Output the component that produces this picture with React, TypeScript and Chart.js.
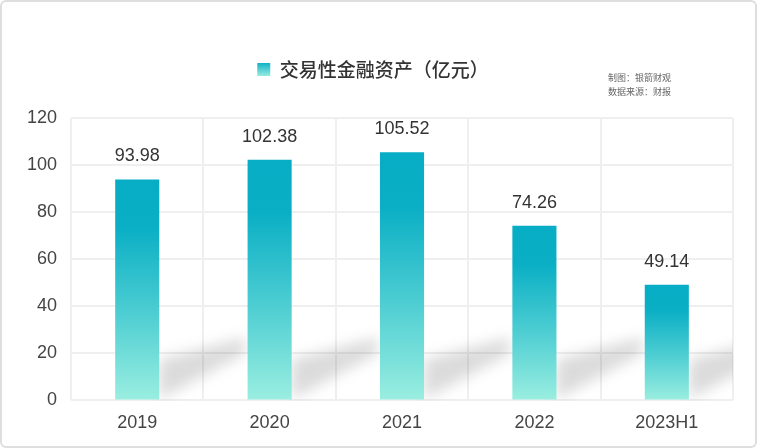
import React, { useEffect, useRef } from 'react';
import { Chart, registerables } from 'chart.js';

Chart.register(...registerables);

const categories = ['2019', '2020', '2021', '2022', '2023H1'];
const values = [93.98, 102.38, 105.52, 74.26, 49.14];
const valueLabels = ['93.98', '102.38', '105.52', '74.26', '49.14'];
const yTickValues = [0, 20, 40, 60, 80, 100, 120];
const seriesName = '交易性金融资产（亿元）';
const sourceLines = ['制图：银箭财观', '数据来源：财报'];

const FONT = '"Helvetica Neue", Helvetica, Arial, "Liberation Sans", "Noto Sans CJK SC", sans-serif';
const CJK_FONT = '"Noto Sans CJK SC", "Helvetica Neue", Arial, sans-serif';

function barGradient(ctx: CanvasRenderingContext2D, top: number, bottom: number) {
  const g = ctx.createLinearGradient(0, top, 0, bottom);
  g.addColorStop(0, '#07adc4');
  g.addColorStop(0.22, '#0aafc5');
  g.addColorStop(0.6, '#4ccdd2');
  g.addColorStop(1, '#9aeee0');
  return g;
}

const shadowPlugin = {
  id: 'barShadows',
  beforeDatasetsDraw(chart: any) {
    const { ctx, chartArea } = chart;
    const meta = chart.getDatasetMeta(0);
    ctx.save();
    ctx.beginPath();
    ctx.rect(chartArea.left, chartArea.top, chartArea.right - chartArea.left, chartArea.bottom - chartArea.top);
    ctx.clip();
    ctx.filter = 'blur(7px)';
    ctx.fillStyle = 'rgba(0,0,0,0.14)';
    meta.data.forEach((bar: any) => {
      const xr = bar.x + bar.width / 2;
      const base = bar.base;
      ctx.beginPath();
      ctx.moveTo(xr, base);
      ctx.lineTo(xr, base - 40);
      ctx.lineTo(xr + 86, base - 62);
      ctx.lineTo(xr + 86, base - 46);
      ctx.closePath();
      ctx.fill();
    });
    ctx.restore();
  },
};

const labelPlugin = {
  id: 'valueLabels',
  afterDatasetsDraw(chart: any) {
    const { ctx } = chart;
    const meta = chart.getDatasetMeta(0);
    ctx.save();
    ctx.font = `18px ${FONT}`;
    ctx.fillStyle = '#333333';
    ctx.textAlign = 'center';
    ctx.textBaseline = 'bottom';
    meta.data.forEach((bar: any, i: number) => {
      ctx.fillText(valueLabels[i], bar.x, bar.y - 14);
    });
    ctx.restore();
  },
  afterDraw(chart: any) {
    const { ctx } = chart;
    ctx.save();
    ctx.font = `9px ${CJK_FONT}`;
    ctx.fillStyle = '#666666';
    ctx.textAlign = 'left';
    ctx.textBaseline = 'middle';
    sourceLines.forEach((t, i) => ctx.fillText(t, 606, 76 + i * 14));
    ctx.restore();
  },
};

export default function App() {
  const ref = useRef<HTMLCanvasElement>(null);

  useEffect(() => {
    document.body.style.margin = '0';
    const canvas = ref.current!;
    const chart = new Chart(canvas, {
      type: 'bar',
      data: {
        labels: categories,
        datasets: [
          {
            label: seriesName,
            data: values,
            backgroundColor: (c: any) => {
              const chart = c.chart;
              if (!chart.chartArea || c.raw === undefined) return '#0aafc5';
              const y = chart.scales.y;
              return barGradient(chart.ctx, y.getPixelForValue(c.raw), y.getPixelForValue(0));
            },
            borderWidth: 0,
            categoryPercentage: 1,
            barPercentage: 0.333,
          },
        ],
      },
      options: {
        animation: false,
        responsive: false,
        maintainAspectRatio: false,
        layout: { padding: { top: 28, left: 11, right: 22, bottom: 0 } },
        plugins: {
          tooltip: { enabled: false },
          subtitle: {
            display: true,
            text: '',
            weight: 500,
            font: { size: 1 },
            padding: { top: 0, bottom: 28 },
          },
          legend: {
            display: true,
            position: 'top',
            labels: {
              font: { size: 19, family: CJK_FONT, weight: '500' },
              color: '#333333',
              boxWidth: 13,
              boxHeight: 13,
              padding: 30,
              generateLabels: (ch: any) => {
                const g = ch.ctx.createLinearGradient(0, 60, 0, 73);
                g.addColorStop(0, '#07adc4');
                g.addColorStop(1, '#8ee8dd');
                return [
                  {
                    text: seriesName,
                    fillStyle: g,
                    strokeStyle: 'rgba(0,0,0,0)',
                    lineWidth: 0,
                    hidden: false,
                    datasetIndex: 0,
                    fontColor: '#333333',
                  },
                ];
              },
            },
          },
        },
        scales: {
          x: {
            offset: true,
            grid: { display: true, color: '#efefef', lineWidth: 2, drawTicks: false, offset: true },
            border: { display: false },
            ticks: { font: { size: 18, family: FONT }, color: '#444444', padding: 12 },
          },
          y: {
            min: 0,
            max: 120,
            afterBuildTicks: (axis: any) => {
              axis.ticks = yTickValues.map((v) => ({ value: v }));
            },
            grid: { color: '#efefef', lineWidth: 2, drawTicks: false },
            border: { display: false },
            ticks: { font: { size: 18, family: FONT }, color: '#444444', padding: 14 },
          },
        },
      },
      plugins: [shadowPlugin, labelPlugin],
    });
    return () => chart.destroy();
  }, []);

  return (
    <div
      style={{
        width: 757,
        height: 448,
        boxSizing: 'border-box',
        border: '2px solid #dedede',
        borderRadius: 6,
        background: '#ffffff',
        overflow: 'hidden',
      }}
    >
      <canvas ref={ref} width={753} height={444} style={{ display: 'block', width: 753, height: 444 }} />
    </div>
  );
}
